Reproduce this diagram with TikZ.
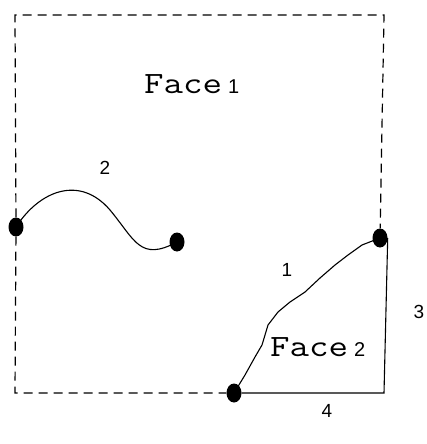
\documentclass[tikz,border=0pt]{standalone}
\usepackage{fontspec}
\usepackage{graphicx}
\usetikzlibrary{shapes.geometric}
\setmainfont{Liberation Sans}
\newcommand{\facetxt}[1]{{\ttfamily\fontsize{31}{34}\selectfont\scalebox{1.22}[1]{Face}}\hspace{6pt}{\rmfamily\fontsize{20}{22}\selectfont #1}}
\begin{document}
\begin{tikzpicture}[x=1pt,y=-1pt,
  dot/.style={ellipse,fill=black,inner sep=0pt,minimum width=15pt,minimum height=19pt},
  lbl/.style={font=\fontsize{19}{21}\selectfont,inner sep=0pt},
  facelbl/.style={inner sep=0pt,anchor=base west},
  bdry/.style={dash pattern=on 9pt off 6pt,line width=1.2pt},
  edge/.style={line width=1.1pt}]
\useasboundingbox (0,0) rectangle (427,444);
\coordinate (tl) at (15,15);
\coordinate (tr) at (384,15);
\coordinate (bl) at (15,393);
\coordinate (br) at (384,393);
\node[dot] (a) at (16,227) {};
\node[dot] (b) at (177,242) {};
\node[dot] (c) at (380,238) {};
\node[dot] (d) at (234,393) {};
\draw[bdry] (a) -- (tl) -- (tr) -- (c);
\draw[bdry] (a) -- (bl) -- (d);
\draw[edge] (c.east |- c) -- (br) -- (d);
\draw[edge,line join=round] (d.center) -- (245,375) -- (255,357) -- (262,345) -- (268,325) -- (278,312) -- (290,302) -- (305,292) -- (320,278) -- (335,265) -- (348,255) -- (362,245) -- (c.center);
\draw[edge,line join=round] (a.center) .. controls (40,190) and (80,175) .. (110,210) .. controls (135,240) and (140,262) .. (b.center);
\node[facelbl] (f1) at (144,93) {\facetxt{1}};
\node[facelbl] (f2) at (270,356) {\facetxt{2}};
\node[lbl] (l2) at (105,168) {2};
\node[lbl] (l1) at (287,270) {1};
\node[lbl] (l3) at (419,312) {3};
\node[lbl] (l4) at (327,411) {4};
\end{tikzpicture}
\end{document}
